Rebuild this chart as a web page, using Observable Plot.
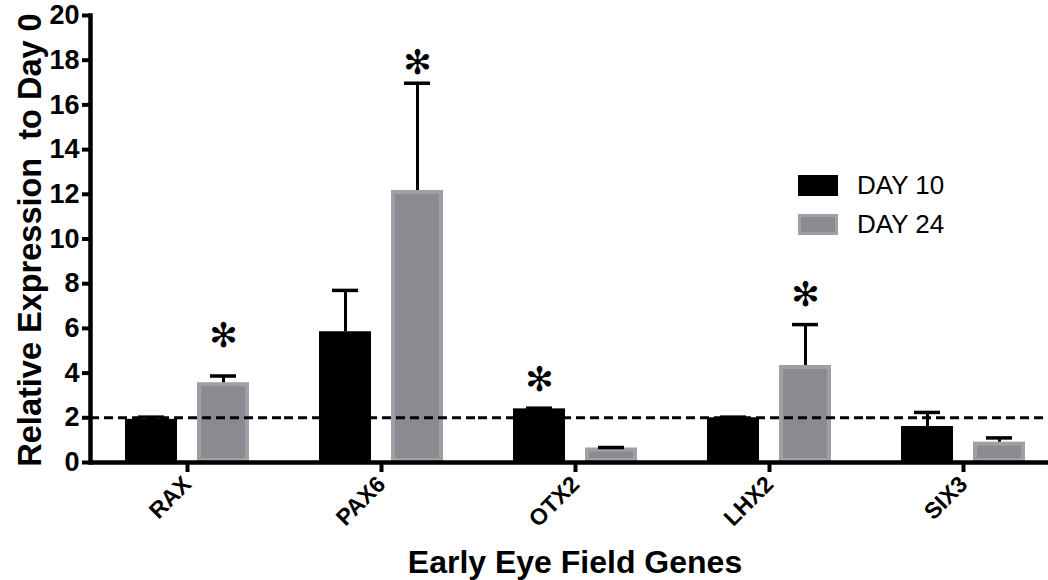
<!DOCTYPE html>
<html>
<head>
<meta charset="utf-8">
<script src="https://cdn.jsdelivr.net/npm/d3@7"></script>
<script src="https://cdn.jsdelivr.net/npm/@observablehq/plot@0.6"></script>
<style>
  html, body { margin: 0; padding: 0; background: #fff; }
  #wrap { position: relative; width: 1048px; height: 580px; font-family: "Liberation Sans", Arial, sans-serif; }
  #wrap svg { position: absolute; left: 0; top: 0; }
  .ytitle { position: absolute; left: 30px; top: 240px; transform: translate(-50%, -50%) rotate(-90deg); font-weight: bold; font-size: 32.5px; white-space: pre; color: #000; }
  .xtitle { position: absolute; left: 575px; top: 562px; transform: translate(-50%, -50%); font-weight: bold; font-size: 32px; white-space: pre; color: #000; }
  .legend { position: absolute; left: 798px; top: 166px; font-size: 26px; color: #000; }
  .legend .row { display: flex; align-items: center; height: 39px; }
  .legend .sw { width: 40px; height: 21px; box-sizing: border-box; margin-right: 19px; }
</style>
</head>
<body>
<div id="wrap"></div>
<script>
const genes = ["RAX", "PAX6", "OTX2", "LHX2", "SIX3"];
const days = ["DAY 10", "DAY 24"];
const day10 = [1.93, 5.85, 2.4, 2.0, 1.61];
const day10Err = [0.1, 1.85, 0.03, 0.03, 0.63];
const day24 = [3.57, 12.17, 0.65, 4.34, 0.91];
const day24Err = [0.3, 4.8, 0.02, 1.83, 0.19];
const star10 = [null, null, 3.7, null, null];
const star24 = [5.65, 17.85, null, 7.47, null];
const yTicks = [0, 2, 4, 6, 8, 10, 12, 14, 16, 18, 20];
const baseline = 2;

const colors = {"DAY 10": "#000000", "DAY 24": "#8a8a90"};
const borders = {"DAY 10": "#000000", "DAY 24": "#a0a0a4"};

const rows = [];
genes.forEach((g, i) => {
  rows.push({gene: g, day: "DAY 10", value: day10[i], err: day10Err[i], star: star10[i]});
  rows.push({gene: g, day: "DAY 24", value: day24[i], err: day24Err[i], star: star24[i]});
});
const stars = rows.filter(d => d.star != null);

const chart = Plot.plot({
  width: 1048,
  height: 580,
  marginLeft: 90,
  marginRight: 0,
  marginTop: 15,
  marginBottom: 118,
  style: {fontFamily: "'Liberation Sans', Arial, sans-serif", background: "#fff", color: "#000"},
  fx: {domain: genes, range: [90, 1060], padding: 0},
  x: {domain: days, paddingInner: 0.283, paddingOuter: 0.48, axis: null},
  y: {domain: [0, 20], axis: null},
  marks: [
    Plot.barY(rows, {fx: "gene", x: "day", y: "value",
      fill: d => colors[d.day], stroke: d => borders[d.day], strokeWidth: 4, inset: 2}),
    Plot.ruleX(rows, {fx: "gene", x: "day", y1: "value", y2: d => d.value + d.err, stroke: "#000", strokeWidth: 3}),
    Plot.tickY(rows, {fx: "gene", x: "day", y: d => d.value + d.err, stroke: "#000", strokeWidth: 3.5, insetLeft: 13, insetRight: 13}),
    Plot.ruleY([baseline], {stroke: "#000", strokeWidth: 3, strokeDasharray: "9,5"}),
    Plot.text(stars, {fx: "gene", x: "day", y: "star", text: () => "✻", fontSize: 34, fill: "#000", fontFamily: "DejaVu Sans", lineAnchor: "middle"}),
    Plot.ruleY([0], {stroke: "#000", strokeWidth: 4.5}),
    Plot.frame({anchor: "left", facetAnchor: "left", stroke: "#000", strokeWidth: 4.5}),
    Plot.axisY({ticks: yTicks, tickSize: 8, tickPadding: 3, strokeWidth: 4, fontSize: 27, fontWeight: "bold", label: null}),
    Plot.axisFx({anchor: "bottom", tickRotate: -45, tickSize: 10, tickPadding: 8, strokeWidth: 4, fontSize: 23, fontWeight: "bold", label: null})
  ]
});

const wrap = document.getElementById("wrap");
wrap.appendChild(chart);

const yt = document.createElement("div");
yt.className = "ytitle";
yt.textContent = "Relative Expression  to Day 0";
wrap.appendChild(yt);

const xt = document.createElement("div");
xt.className = "xtitle";
xt.textContent = "Early Eye Field Genes";
wrap.appendChild(xt);

const lg = document.createElement("div");
lg.className = "legend";
days.forEach(d => {
  const r = document.createElement("div");
  r.className = "row";
  const sw = document.createElement("div");
  sw.className = "sw";
  sw.style.background = colors[d];
  sw.style.border = "3px solid " + borders[d];
  const t = document.createElement("span");
  t.textContent = d;
  r.appendChild(sw);
  r.appendChild(t);
  lg.appendChild(r);
});
wrap.appendChild(lg);
</script>
</body>
</html>
